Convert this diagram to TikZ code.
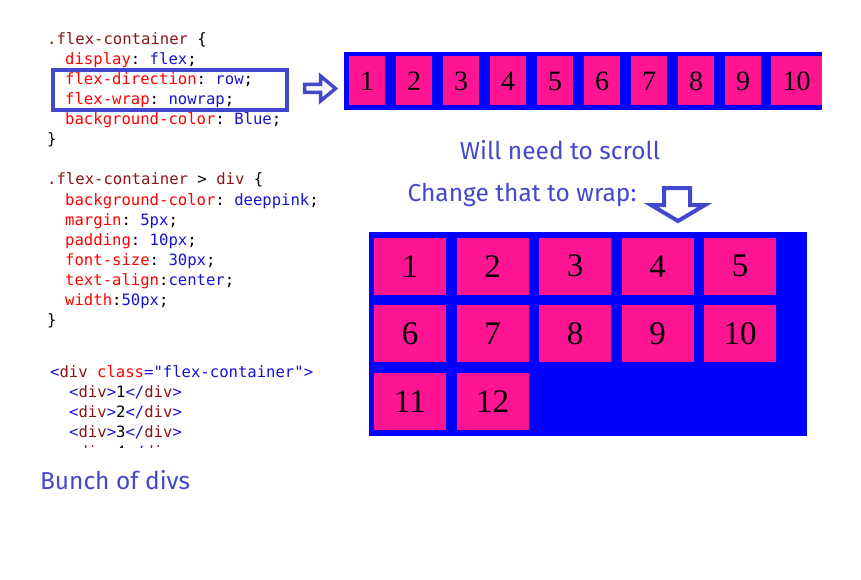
\documentclass[tikz,border=0pt]{standalone}
\usepackage{fontspec}
\setmonofont{DejaVu Sans Mono}
\newfontfamily\handfont{Fira Sans}
\newfontfamily\boxfont{Liberation Serif}
\usetikzlibrary{positioning}

\definecolor{deeppink}{RGB}{255,20,147}
\definecolor{flexblue}{RGB}{0,0,255}
\definecolor{inkblue}{RGB}{66,72,206}
\definecolor{cssmaroon}{RGB}{140,20,20}
\definecolor{cssred}{RGB}{255,0,0}
\definecolor{cssval}{RGB}{20,20,210}

\newcommand{\csel}[1]{\textcolor{cssmaroon}{#1}}
\newcommand{\cprop}[1]{\textcolor{cssred}{#1}}
\newcommand{\cval}[1]{\textcolor{cssval}{#1}}
\newcommand{\ctag}[1]{\textcolor{cssval}{<}\textcolor{cssmaroon}{div}\textcolor{cssval}{>}#1\textcolor{cssval}{</}\textcolor{cssmaroon}{div}\textcolor{cssval}{>}}

\begin{document}
\begin{tikzpicture}[x=1pt,y=-1pt,
  codeline/.style={anchor=base west,inner sep=0pt,font=\ttfamily\fontsize{15.6}{20}\selectfont},
  hand/.style={inkblue,inner sep=0pt,font=\handfont\fontsize{24.5}{28}\selectfont},
  pinkbox/.style={fill=deeppink,inner sep=0pt,text=black},
  blockarrow/.style={draw=inkblue,line join=miter}]

  \useasboundingbox (0,0) rectangle (861,580);

  % css for the container
  \node[codeline] (sel1) at (47,45) {\csel{.flex-container} \{};
  \node[codeline] (disp) at (65,65) {\cprop{display}: \cval{flex};};
  \node[codeline] (fdir) at (65,85) {\cprop{flex-direction}: \cval{row};};
  \node[codeline] (fwrap) at (65,105) {\cprop{flex-wrap}: \cval{nowrap};};
  \node[codeline] (bg1) at (65,125) {\cprop{background-color}: \cval{Blue};};
  \node[codeline] (end1) at (47,145) {\}};
  \node[draw=inkblue,line width=4.3pt,inner sep=0pt,minimum width=234,minimum height=40.4] (hl) at (170.2,90) {};

  % css for the children
  \node[codeline] (sel2) at (47,185) {\csel{.flex-container} > \csel{div} \{};
  \node[codeline] (bg2) at (65,205) {\cprop{background-color}: \cval{deeppink};};
  \node[codeline] (marg) at (65,225) {\cprop{margin}: \cval{5px};};
  \node[codeline] (pad) at (65,245) {\cprop{padding}: \cval{10px};};
  \node[codeline] (fsize) at (65,265) {\cprop{font-size}: \cval{30px};};
  \node[codeline] (talign) at (65,285) {\cprop{text-align}:\cval{center};};
  \node[codeline] (wid) at (65,305) {\cprop{width}:\cval{50px};};
  \node[codeline] (end2) at (47,325) {\}};

  % html
  \node[codeline] (html) at (50,377) {\cval{<}\csel{div} \cprop{class}\cval{="flex-container">}};
  \foreach \i in {1,2,3}
    \node[codeline] (d\i) at (69,{377+20*\i}) {\ctag{\i}};
  \begin{scope}
    \clip (0,0) rectangle (340,447);
    \node[codeline] (d4) at (69,457) {\ctag{4}};
  \end{scope}

  \node[hand] (bunch) at (115,480) {Bunch of divs};

  % nowrap row
  \fill[flexblue] (344,52) rectangle (822,110);
  \foreach \i in {1,...,9}
    \node[pinkbox,minimum width=36,minimum height=49,font=\boxfont\fontsize{28}{28}\selectfont] (r\i) at ({367+47*(\i-1)},81) {\i};
  \node[pinkbox,minimum width=51,minimum height=49,font=\boxfont\fontsize{28}{28}\selectfont] (r10) at (796.5,81) {10};

  \draw[blockarrow,line width=3.5pt] (304.5,84.5) -- (320.5,84.5) -- (320.5,76) -- (335.5,88.5)
    -- (320.5,101) -- (320.5,92.5) -- (304.5,92.5) -- cycle;

  \node[hand] (scroll) at (560,150) {Will need to scroll};
  \node[hand] (change) at (522,195) {Change that to wrap:};

  \draw[blockarrow,line width=4pt] (664,188) -- (690,188) -- (690,205) -- (705,205) -- (678,221)
    -- (651,205) -- (664,205) -- cycle;

  % wrapped grid
  \fill[flexblue] (369,232.3) rectangle (806.7,435.7);
  \foreach \n in {1,...,12} {
    \pgfmathtruncatemacro{\col}{mod(\n-1,5)}
    \pgfmathtruncatemacro{\row}{div(\n-1,5)}
    \node[pinkbox,minimum width=72,minimum height=57,font=\boxfont\fontsize{33}{33}\selectfont] (w\n) at ({410+82.5*\col},{266.2+67.5*\row}) {\n};
  }
\end{tikzpicture}
\end{document}
